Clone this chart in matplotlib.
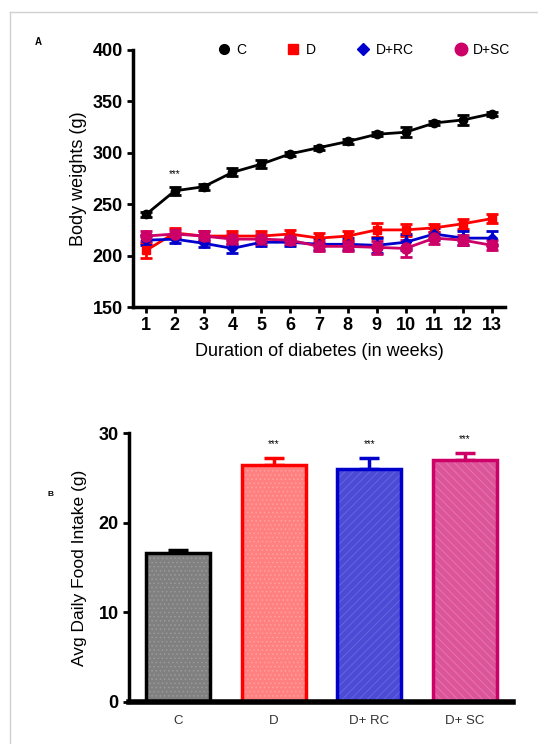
import numpy as np
import matplotlib.pyplot as plt
from matplotlib.lines import Line2D
from matplotlib.colors import to_rgba

plt.rcParams['font.family'] = ['Liberation Sans', 'DejaVu Sans']
plt.rcParams['hatch.linewidth'] = 0.6

# Panel A: body weights (g) per week
weeks = np.arange(1, 14)
c_w = [240, 263, 267, 281, 289, 299, 305, 311, 318, 320, 329, 332, 338]
c_err = [2, 4, 3, 4, 4, 2, 2, 2, 2, 5, 2, 5, 2]
d_w = [205, 222, 219, 219, 219, 221, 217, 219, 225, 225, 227, 231, 236]
d_err = [7, 5, 5, 5, 5, 4, 5, 5, 7, 6, 4, 5, 4]
rc_w = [215, 216, 212, 207, 213, 213, 211, 211, 210, 213, 221, 217, 217]
rc_err = [5, 4, 4, 4, 4, 4, 6, 6, 7, 8, 6, 7, 7]
sc_w = [219, 221, 219, 216, 216, 215, 209, 209, 208, 207, 217, 215, 210]
sc_err = [5, 4, 5, 5, 5, 4, 5, 5, 6, 8, 6, 5, 5]

# Panel B: average daily food intake (g)
groups = ['C', 'D', 'D+ RC', 'D+ SC']
intake = [16.6, 26.4, 26.0, 27.0]
intake_err = [0.4, 0.8, 1.2, 0.8]

fig = plt.figure(figsize=(5.38, 7.44), dpi=100)

# light frame around the figure
fig.add_artist(Line2D([10 / 538, 10 / 538], [0, 1 - 12 / 744], transform=fig.transFigure,
                      color='#d0d0d0', lw=1))
fig.add_artist(Line2D([10 / 538, 1], [1 - 12 / 744, 1 - 12 / 744], transform=fig.transFigure,
                      color='#d0d0d0', lw=1))

# ---------- panel A ----------
ax1 = fig.add_axes([133 / 538, 1 - 307 / 744, 372 / 538, 257 / 744])
series = [
    (c_w, c_err, 'black', 'o', 6, 'C'),
    (d_w, d_err, '#ff0000', 's', 6, 'D'),
    (rc_w, rc_err, '#0000cc', 'D', 5, 'D+RC'),
    (sc_w, sc_err, '#cc0066', 'o', 8, 'D+SC'),
]
handles = []
for vals, err, col, mk, ms, lab in series:
    ax1.errorbar(weeks, vals, yerr=err, color=col, marker=mk, ms=ms, lw=2,
                 elinewidth=2, capsize=4, capthick=2)
    handles.append(Line2D([], [], color=col, marker=mk, ms=ms + 1, ls='none', label=lab))
ax1.text(2, 274, '***', ha='center', va='bottom', fontsize=7)
ax1.set_xlim(0.55, 13.45)
ax1.set_ylim(150, 400)
ax1.set_xticks(weeks)
ax1.set_yticks([150, 200, 250, 300, 350, 400])
for s in ['top', 'right']:
    ax1.spines[s].set_visible(False)
for s in ['left', 'bottom']:
    ax1.spines[s].set_linewidth(2.5)
ax1.tick_params(width=2, length=4, labelsize=13)
for t in ax1.get_xticklabels() + ax1.get_yticklabels():
    t.set_fontweight('bold')
ax1.set_ylabel('Body weights (g)', fontsize=13, labelpad=4)
ax1.set_xlabel('Duration of diabetes (in weeks)', fontsize=13, labelpad=6)
ax1.legend(handles=handles, ncol=4, loc='center', bbox_to_anchor=(0.62, 1.0),
           frameon=False, fontsize=10, handletextpad=0.4, columnspacing=2.9,
           handlelength=1.0)
fig.text(38 / 538, 1 - 45 / 744, 'A', fontsize=7, fontweight='bold', ha='center')

# ---------- panel B ----------
ax2 = fig.add_axes([129 / 538, 1 - 702 / 744, 384 / 538, 269 / 744])
x = np.arange(len(groups))
faces = ['#808080', '#ff8080', '#4b4bd6', '#dc559a']
edges = ['black', '#ff0000', '#0000cc', '#cc0066']
hatches = ['....', '....', '////', '\\\\\\\\']
hatch_cols = ['#9a9a9a', '#ffa0a0', '#6a6ae0', '#e878b0']
for i in range(len(groups)):
    bars = ax2.bar(x[i], intake[i], width=0.67, color=faces[i], edgecolor=edges[i],
                   linewidth=2.5, hatch=hatches[i], zorder=2)
    bars[0]._hatch_color = to_rgba(hatch_cols[i])
    ax2.errorbar(x[i], intake[i], yerr=[[0], [intake_err[i]]], color=edges[i],
                 elinewidth=2.5, capsize=7, capthick=2.5, zorder=1)
    if i > 0:
        ax2.text(x[i], intake[i] + intake_err[i] + 1.0, '***', ha='center',
                 va='bottom', fontsize=7)
ax2.set_xlim(-0.51, 3.5)
ax2.set_ylim(0, 30)
ax2.set_xticks(x)
ax2.set_xticklabels(groups, fontsize=9.5, color='#333333')
ax2.set_yticks([0, 10, 20, 30])
for s in ['top', 'right']:
    ax2.spines[s].set_visible(False)
ax2.spines['left'].set_linewidth(2.5)
ax2.spines['bottom'].set_linewidth(4)
ax2.tick_params(axis='y', width=2, length=4, labelsize=13)
ax2.tick_params(axis='x', length=0, pad=9)
for t in ax2.get_yticklabels():
    t.set_fontweight('bold')
ax2.set_ylabel('Avg Daily Food Intake (g)', fontsize=12.5, labelpad=8)
fig.text(50 / 538, 1 - 496 / 744, 'B', fontsize=6, fontweight='bold', ha='center')

fig.savefig('out.png', dpi=100)
